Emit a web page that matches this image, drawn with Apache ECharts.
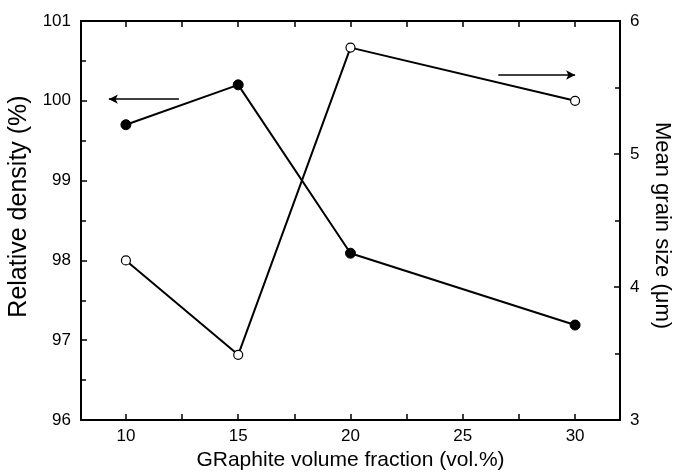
<!DOCTYPE html>
<html><head><meta charset="utf-8">
<script src="https://cdn.jsdelivr.net/npm/echarts@6/dist/echarts.min.js"></script>
<style>html,body{margin:0;padding:0;background:#fff}#c{width:675px;height:472px}</style>
</head><body><div id="c"></div>
<script>
const xValues = [10, 15, 20, 30];
const relativeDensity = [99.70, 100.20, 98.09, 97.19];
const grainSize = [4.20, 3.49, 5.80, 5.40];
const xTickValues = [10, 12.5, 15, 17.5, 20, 22.5, 25, 27.5, 30];
const xLabelValues = [10, 15, 20, 25, 30];
const xTitle = 'GRaphite volume fraction (vol.%)';
const yLeftTitle = 'Relative density (%)';
const yRightTitle = 'Mean grain size (μm)';

const FONT = '"Liberation Sans", Arial, sans-serif';
const chart = echarts.init(document.getElementById('c'), null, {renderer: 'canvas'});
const axisLine = {show: true, lineStyle: {color: '#000', width: 2}};
const tickStyle = {color: '#000', width: 1.5};
chart.setOption({
  animation: false,
  backgroundColor: '#fff',
  grid: {left: 81, right: 55, top: 21, bottom: 52, containLabel: false, outerBoundsMode: 'none'},
  xAxis: [{
    type: 'value', min: 8, max: 32,
    position: 'bottom',
    axisLine: axisLine,
    axisTick: {show: true, inside: true, length: 6, lineStyle: tickStyle, customValues: xTickValues},
    splitLine: {show: false},
    axisLabel: {color: '#000', fontSize: 17, fontFamily: FONT, margin: 8, customValues: xLabelValues},
    name: xTitle, nameLocation: 'middle', nameGap: 28,
    nameTextStyle: {color: '#000', fontSize: 21, fontFamily: FONT}
  }, {
    type: 'value', min: 8, max: 32,
    position: 'top',
    axisLine: axisLine,
    axisTick: {show: true, inside: true, length: 6, lineStyle: tickStyle, customValues: xTickValues},
    splitLine: {show: false},
    axisLabel: {show: false}
  }],
  yAxis: [{
    type: 'value', min: 96, max: 101, interval: 1,
    position: 'left',
    axisLine: axisLine,
    axisTick: {show: true, inside: true, length: 6, lineStyle: tickStyle},
    minorTick: {show: true, splitNumber: 2, length: 5, lineStyle: tickStyle},
    splitLine: {show: false},
    axisLabel: {color: '#000', fontSize: 17, fontFamily: FONT, margin: 10},
    name: yLeftTitle, nameLocation: 'middle', nameGap: 43,
    nameTextStyle: {color: '#000', fontSize: 25, fontFamily: FONT, padding: [0, 0, 0, 28]}
  }, {
    type: 'value', min: 3, max: 6, interval: 1,
    position: 'right',
    axisLine: axisLine,
    axisTick: {show: true, inside: true, length: 6, lineStyle: tickStyle},
    minorTick: {show: true, splitNumber: 2, length: 5, lineStyle: tickStyle},
    splitLine: {show: false},
    axisLabel: {color: '#000', fontSize: 17, fontFamily: FONT, margin: 10},
    name: yRightTitle, nameLocation: 'middle', nameGap: 31, nameRotate: -90,
    nameTextStyle: {color: '#000', fontSize: 22, fontFamily: FONT, padding: [0, 0, 0, 10]}
  }],
  series: [{
    type: 'line', xAxisIndex: 0, yAxisIndex: 0,
    data: xValues.map((x, i) => [x, relativeDensity[i]]),
    symbol: 'circle', symbolSize: 10,
    lineStyle: {color: '#000', width: 2},
    itemStyle: {color: '#000', borderColor: '#000', borderWidth: 1},
    markLine: {
      silent: true, symbol: ['none', 'arrow'], symbolSize: [7, 9],
      label: {show: false},
      lineStyle: {color: '#000', width: 1.5, type: 'solid'},
      data: [[{coord: [12.36, 100.02]}, {coord: [9.24, 100.02]}]]
    },
    z: 3
  }, {
    type: 'line', xAxisIndex: 0, yAxisIndex: 1,
    data: xValues.map((x, i) => [x, grainSize[i]]),
    symbol: 'circle', symbolSize: 9,
    lineStyle: {color: '#000', width: 2},
    itemStyle: {color: '#fff', borderColor: '#000', borderWidth: 1.2},
    markLine: {
      silent: true, symbol: ['none', 'arrow'], symbolSize: [7, 9],
      label: {show: false},
      lineStyle: {color: '#000', width: 1.5, type: 'solid'},
      data: [[{coord: [26.58, 5.594]}, {coord: [30.0, 5.594]}]]
    },
    z: 4
  }]
});
</script></body></html>
